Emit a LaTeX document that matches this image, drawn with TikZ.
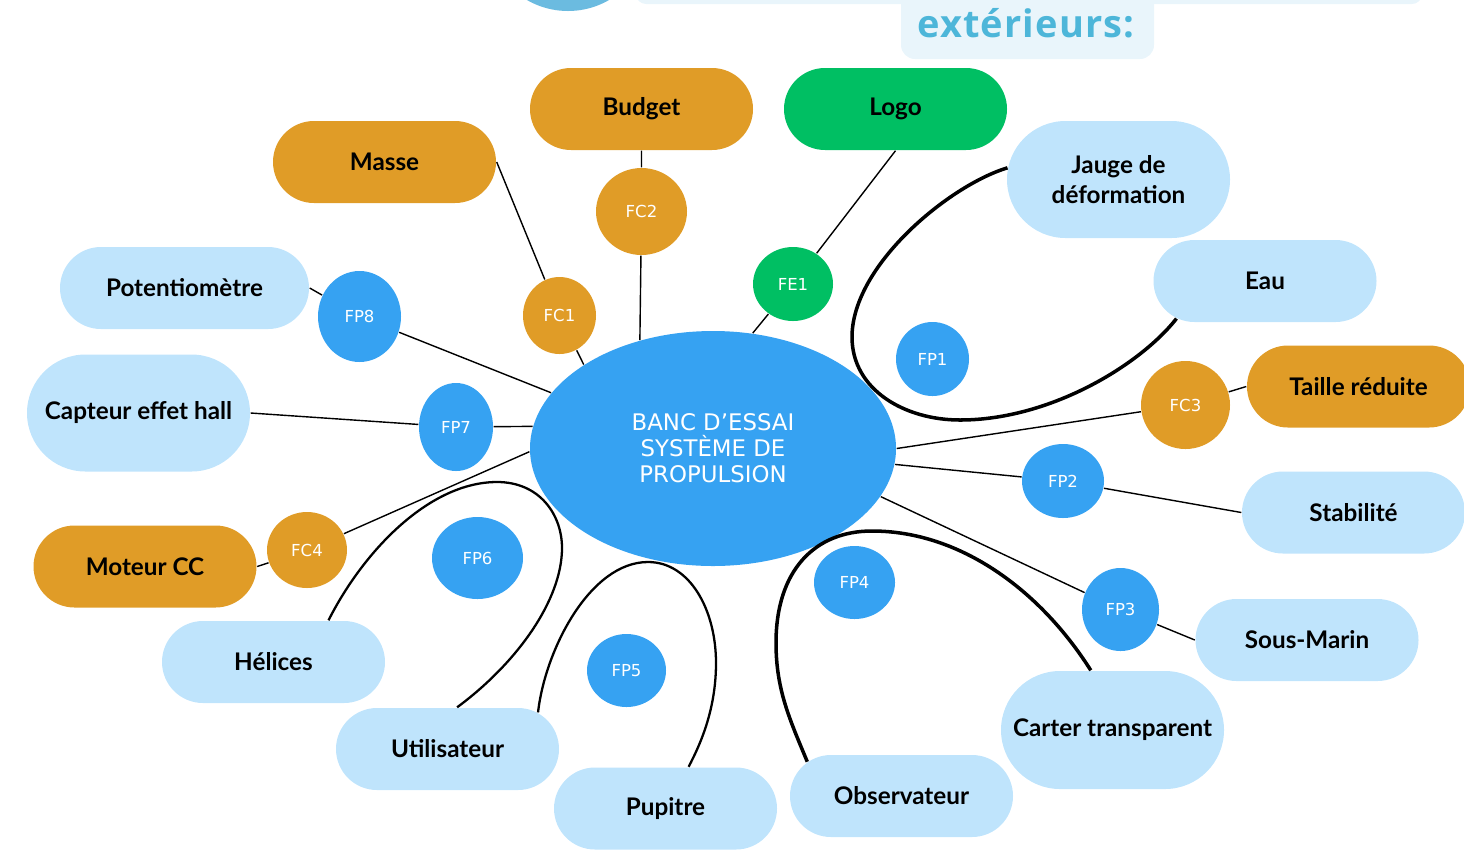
\documentclass[tikz,border=0pt]{standalone}
\usepackage{fontspec}
\setmainfont{Lato}
\newfontfamily\bancfont{DejaVu Sans}
\newfontfamily\titlefont[LetterSpace=3]{Open Sans}
\definecolor{banc_orange}{RGB}{224, 156, 39}
\definecolor{banc_green}{RGB}{0, 191, 99}
\definecolor{banc_light}{RGB}{191, 228, 252}
\definecolor{banc_blue}{RGB}{54, 162, 242}
\definecolor{banc_tab}{RGB}{233, 245, 251}
\definecolor{banc_title}{RGB}{77, 182, 217}
\definecolor{banc_dot}{RGB}{107, 187, 224}
\usetikzlibrary{shapes.geometric, shapes.misc}

\begin{document}
\begin{tikzpicture}[
    pill/.style={rounded rectangle, minimum width=2.23cm, minimum height=0.82cm,
                 inner sep=0pt, align=center, font=\fontsize{6.9}{8.5}\selectfont\bfseries},
    fcirc/.style={ellipse, inner sep=0pt, text=white, font=\bancfont\fontsize{4.7}{5}\selectfont},
    link/.style={black, line width=0.4pt},
    loopthick/.style={black, line width=1pt},
    loopthin/.style={black, line width=0.65pt}]

  \useasboundingbox (0,0) rectangle (14.64,-8.54);

  \fill[banc_dot] (5.68,0.71) circle (0.82);
  \fill[banc_tab, rounded corners=0.1cm] (6.36,1) rectangle (14.22,-0.04);
  \fill[banc_tab, rounded corners=0.14cm] (9.01,1) rectangle (11.54,-0.59);
  \node[font=\titlefont\bfseries\fontsize{10.8}{12}\selectfont, text=banc_title, anchor=base]
    (titre) at (10.26,-0.37) {extérieurs:};

  \node[pill, fill=banc_orange] (budget) at (6.415,-1.09) {Budget};
  \node[pill, fill=banc_green] (logo) at (8.955,-1.09) {Logo};
  \node[pill, fill=banc_orange] (masse) at (3.845,-1.62) {Masse};
  \node[pill, fill=banc_light, minimum height=1.17cm] (jauge) at (11.185,-1.795)
    {Jauge de\\déformation};
  \node[pill, fill=banc_light, minimum width=2.49cm] (potentiometre) at (1.845,-2.88)
    {Potentiomètre};
  \node[pill, fill=banc_light] (eau) at (12.65,-2.81) {Eau};
  \node[pill, fill=banc_orange] (taille) at (13.585,-3.865) {Taille réduite};
  \node[pill, fill=banc_light, minimum height=1.17cm] (capteur) at (1.385,-4.13)
    {Capteur effet hall};
  \node[pill, fill=banc_light] (stabilite) at (13.535,-5.125) {Stabilité};
  \node[pill, fill=banc_orange] (moteur) at (1.45,-5.665) {Moteur CC};
  \node[pill, fill=banc_light] (sousmarin) at (13.07,-6.40) {Sous-Marin};
  \node[pill, fill=banc_light] (helices) at (2.735,-6.62) {Hélices};
  \node[pill, fill=banc_light, minimum height=1.18cm] (carter) at (11.125,-7.30)
    {Carter transparent};
  \node[pill, fill=banc_light] (utilisateur) at (4.475,-7.49) {Utilisateur};
  \node[pill, fill=banc_light] (pupitre) at (6.655,-8.085) {Pupitre};
  \node[pill, fill=banc_light] (observateur) at (9.015,-7.96) {Observateur};

  \node[fcirc, fill=banc_orange, minimum width=0.91cm, minimum height=0.87cm] (fc2) at (6.415,-2.115) {FC2};
  \node[fcirc, fill=banc_green, minimum width=0.80cm, minimum height=0.74cm] (fe1) at (7.93,-2.84) {FE1};
  \node[fcirc, fill=banc_orange, minimum width=0.73cm, minimum height=0.77cm] (fc1) at (5.595,-3.155) {FC1};
  \node[fcirc, fill=banc_blue, minimum width=0.83cm, minimum height=0.91cm] (fp8) at (3.595,-3.165) {FP8};
  \node[fcirc, fill=banc_blue, minimum width=0.74cm, minimum height=0.88cm] (fp7) at (4.56,-4.27) {FP7};
  \node[fcirc, fill=banc_blue, minimum width=0.73cm, minimum height=0.74cm] (fp1) at (9.325,-3.59) {FP1};
  \node[fcirc, fill=banc_orange, minimum width=0.89cm, minimum height=0.88cm] (fc3) at (11.855,-4.05) {FC3};
  \node[fcirc, fill=banc_blue, minimum width=0.82cm, minimum height=0.74cm] (fp2) at (10.63,-4.81) {FP2};
  \node[fcirc, fill=banc_orange, minimum width=0.80cm, minimum height=0.76cm] (fc4) at (3.07,-5.50) {FC4};
  \node[fcirc, fill=banc_blue, minimum width=0.91cm, minimum height=0.82cm] (fp6) at (4.775,-5.58) {FP6};
  \node[fcirc, fill=banc_blue, minimum width=0.81cm, minimum height=0.73cm] (fp4) at (8.545,-5.825) {FP4};
  \node[fcirc, fill=banc_blue, minimum width=0.77cm, minimum height=0.83cm] (fp3) at (11.205,-6.095) {FP3};
  \node[fcirc, fill=banc_blue, minimum width=0.79cm, minimum height=0.73cm] (fp5) at (6.265,-6.705) {FP5};

  \node[ellipse, fill=banc_blue, minimum width=3.66cm, minimum height=2.35cm, inner sep=0pt,
        text=white, align=center, font=\bancfont\fontsize{6.5}{7.4}\selectfont]
    (banc) at (7.13,-4.485) {BANC D’ESSAI\\SYSTÈME DE\\PROPULSION};

  \draw[link] (banc.124) -- (fc2) -- (budget.south);
  \draw[link] (banc.71) -- (fe1) -- (logo.south);
  \draw[link] (banc.147) -- (fc1) -- (masse.east);
  \draw[link] (banc.161) -- (fp8) -- (potentiometre.east);
  \draw[link] (banc.173) -- (fp7) -- (capteur.east);
  \draw[link] (banc.181) -- (fc4) -- (moteur.east);
  \draw[link] (banc.east) -- (fc3) -- (taille.west);
  \draw[link] (banc.-5) -- (fp2) -- (stabilite.west);
  \draw[link] (banc.-16) -- (fp3) -- (sousmarin.west);

  \draw[loopthick] (jauge.174) .. controls (9.50,-1.85) and (8.52,-2.65) .. (8.52,-3.37)
    .. controls (8.52,-3.90) and (9.05,-4.20) .. (9.60,-4.20)
    .. controls (10.50,-4.20) and (11.40,-3.65) .. (eau.203);
  \draw[loopthin] ([xshift=0.55cm]helices.north) .. controls (3.64,-5.50) and (4.30,-4.82) .. (4.97,-4.82)
    .. controls (5.40,-4.82) and (5.62,-5.15) .. (5.62,-5.48)
    .. controls (5.62,-6.00) and (5.17,-6.63) .. (utilisateur.77);
  \draw[loopthin] (utilisateur.22) .. controls (5.45,-6.50) and (5.90,-5.62) .. (6.48,-5.62)
    .. controls (6.90,-5.62) and (7.16,-6.10) .. (7.16,-6.63)
    .. controls (7.16,-7.10) and (7.00,-7.45) .. (pupitre.61);
  \draw[loopthick] (observateur.160) .. controls (7.90,-7.20) and (7.76,-6.90) .. (7.76,-6.43)
    .. controls (7.76,-5.70) and (8.15,-5.31) .. (8.72,-5.31)
    .. controls (9.60,-5.31) and (10.40,-5.90) .. (carter.110);
\end{tikzpicture}
\end{document}
